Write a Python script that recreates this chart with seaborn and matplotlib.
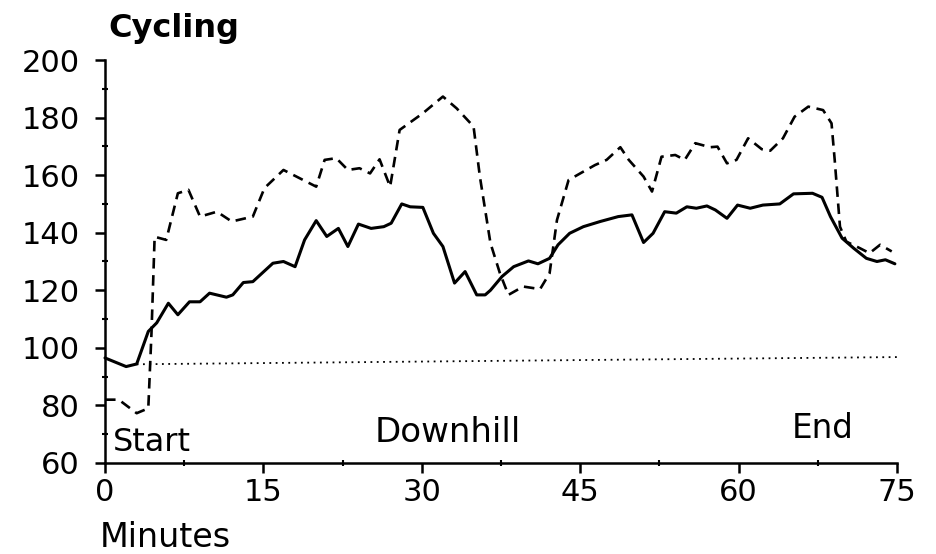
import matplotlib
matplotlib.use("Agg")
import matplotlib.pyplot as plt
import seaborn as sns
import numpy as np
from matplotlib.ticker import MultipleLocator

# ---- data ----
solid_min = [0, 2.0, 3.0, 4.1, 4.9, 6.0, 6.9, 8.0, 9.0, 9.9, 11.5, 12.1, 13.1, 14.0,
             15.9, 16.9, 18.0, 18.9, 20.0, 21.0, 22.1, 23.0, 24.0, 25.2, 26.4, 27.1,
             28.1, 28.9, 30.1, 31.1, 32.0, 33.1, 34.1, 35.2, 36.0, 36.5, 37.6, 38.7,
             40.1, 41.0, 42.1, 42.9, 44.0, 45.3, 46.9, 48.6, 49.9, 51.0, 51.9, 53.0,
             54.1, 55.1, 56.0, 57.0, 57.8, 58.9, 59.9, 61.1, 62.3, 63.9, 65.2, 67.0,
             67.9, 68.7, 69.8, 70.9, 72.1, 73.1, 73.9, 74.8]
solid_val = [96.5, 93.5, 94.4, 105.7, 108.7, 115.5, 111.5, 116, 116, 119, 117.6, 118.4,
             122.7, 123, 129.4, 130, 128.2, 137.5, 144.2, 138.7, 141.5, 135.2, 143,
             141.5, 142.1, 143.3, 150, 149, 148.8, 139.8, 135.2, 122.5, 126.5, 118.4,
             118.4, 120, 124.8, 128.2, 130.2, 129.2, 131.1, 135.8, 139.8, 142.1, 143.9,
             145.6, 146.2, 136.6, 139.8, 147.3, 146.8, 149, 148.5, 149.3, 147.9, 145,
             149.6, 148.5, 149.6, 150, 153.5, 153.7, 152.3, 145.6, 138.1, 134.6, 131.1,
             130, 130.6, 129.2]

dashed_min = [0, 1.3, 3.0, 4.1, 4.4, 4.7, 5.8, 6.9, 7.9, 9.0, 10.6, 12.0, 14.0, 15.1,
              16.9, 20.0, 20.8, 21.9, 23.0, 24.1, 25.1, 26.0, 27.0, 27.9, 30.1, 32.0,
              33.3, 34.9, 35.5, 36.5, 37.4, 38.2, 39.6, 41.2, 42.1, 42.8, 43.9, 45.0,
              46.4, 47.5, 48.8, 49.6, 51.0, 51.8, 52.7, 54.0, 54.9, 55.9, 57.3, 58.0,
              58.9, 59.8, 60.9, 62.2, 63.0, 64.2, 65.3, 66.6, 68.0, 68.8, 69.1, 69.6,
              70.2, 71.5, 72.4, 73.4, 74.5]
dashed_val = [82, 82, 77.3, 79, 105, 138.6, 137.5, 153.7, 154.9, 145.6, 147.3, 143.9,
              145.6, 155.5, 161.8, 156, 165.3, 165.9, 161.8, 162.4, 160.6, 165.5, 156,
              175.7, 181.5, 187.3, 183.2, 176.9, 159.5, 136.4, 125.9, 118.4, 121.3,
              120.4, 125.9, 144.4, 158.3, 160.6, 163.5, 165.3, 169.7, 165.3, 159.5,
              154.3, 166.4, 167, 165.3, 171.1, 169.7, 169.9, 164.1, 165.3, 172.8, 169,
              168.5, 172.8, 180.3, 183.8, 182.6, 178, 165.3, 142.1, 136.9, 134.6, 132.9,
              135.8, 133.5]

dotted_min = [3.0, 75.0]
dotted_val = [94.3, 96.8]

x_ticks = [0, 15, 30, 45, 60, 75]
y_ticks = [60, 80, 100, 120, 140, 160, 180, 200]

annotations = [("Start", 0.75, 64.2, 23), ("Downhill", 25.5, 67.3, 24.5),
               ("End", 65.0, 68.7, 23.5)]

# ---- style ----
sns.set_theme(style="ticks")
plt.rcParams["font.family"] = ["DejaVu Sans"]
plt.rcParams["text.color"] = "black"

fig = plt.figure(figsize=(9.37, 5.54), dpi=100)
ax = fig.add_axes([105 / 937, 1 - 463 / 554, 792 / 937, 403 / 554])

sns.lineplot(x=solid_min, y=solid_val, ax=ax, color="black", linewidth=2.2,
             estimator=None, sort=False, linestyle="-")
sns.lineplot(x=dashed_min, y=dashed_val, ax=ax, color="black", linewidth=1.9,
             estimator=None, sort=False, linestyle=(0, (4, 2.5)))
sns.lineplot(x=dotted_min, y=dotted_val, ax=ax, color="black", linewidth=1.3,
             estimator=None, sort=False, linestyle=(0, (1, 2.5)))

ax.set_xlim(0, 75)
ax.set_ylim(60, 200)
ax.set_xticks(x_ticks)
ax.set_yticks(y_ticks)
ax.xaxis.set_minor_locator(MultipleLocator(7.5))
ax.yaxis.set_minor_locator(MultipleLocator(10))
for sp in ["top", "right"]:
    ax.spines[sp].set_visible(False)
for sp in ["left", "bottom"]:
    ax.spines[sp].set_linewidth(1.8)
    ax.spines[sp].set_color("black")

ax.tick_params(axis="both", which="major", direction="out", length=7, width=1.8,
               colors="black", labelsize=22)
ax.tick_params(axis="both", which="minor", direction="inout", length=5, width=1.5,
               colors="black")
ax.tick_params(axis="y", which="major", pad=11)
ax.tick_params(axis="x", which="major", pad=4)
ax.set_xlabel("")
ax.set_ylabel("")

for txt, xx, yy, fs in annotations:
    ax.text(xx, yy, txt, fontsize=fs, color="black", ha="left", va="baseline")

fig.text(108 / 937, 1 - 37 / 554, "Cycling", fontsize=23, fontweight="bold",
         color="black", ha="left", va="baseline")
fig.text(100 / 937, 1 - 547 / 554, "Minutes", fontsize=24, color="black",
         ha="left", va="baseline")

for line in ax.lines:
    line.set_clip_on(False)

fig.savefig("out.png", dpi=100, facecolor="white")
